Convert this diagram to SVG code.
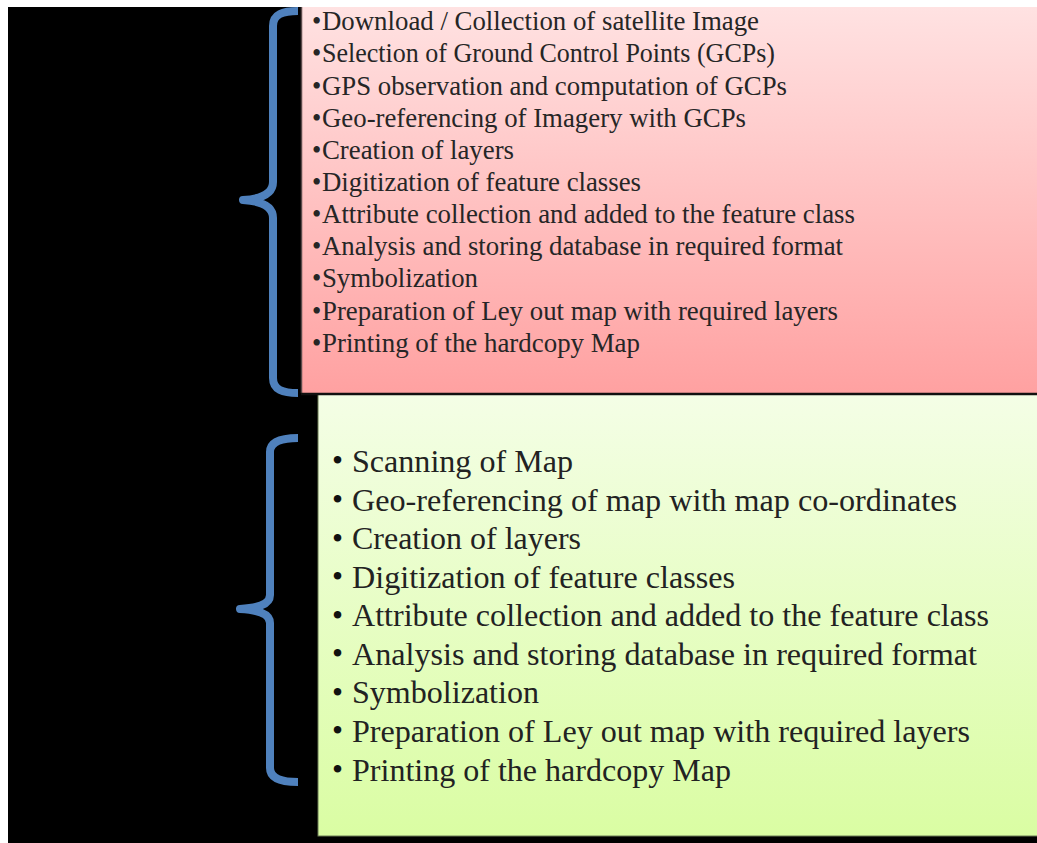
<svg xmlns="http://www.w3.org/2000/svg" width="1037" height="843" viewBox="0 0 1037 843">
  <defs>
    <linearGradient id="gPink" x1="0" y1="0" x2="0" y2="1">
      <stop offset="0" stop-color="#FFE2E2"/>
      <stop offset="1" stop-color="#FFA1A1"/>
    </linearGradient>
    <linearGradient id="gGreen" x1="0" y1="0" x2="0" y2="1">
      <stop offset="0" stop-color="#F4FEE6"/>
      <stop offset="1" stop-color="#DAFDA3"/>
    </linearGradient>
    <style>
      .brace { fill: none; stroke: #4F81BD; stroke-width: 8; stroke-linecap: butt; stroke-linejoin: round; }
      .t1 { font-family: "Liberation Serif", "Times New Roman", serif; font-size: 26.5px; fill: #262626; }
      .t2 { font-family: "Liberation Serif", "Times New Roman", serif; font-size: 31.5px; fill: #222222; }
      .b2 { font-family: "Liberation Serif", "Times New Roman", serif; font-size: 31.5px; fill: #111111; }
    </style>
  </defs>
  <rect x="0" y="0" width="1037" height="843" fill="#FFFFFF"/>
  <rect x="8" y="7" width="1029" height="836" fill="#000000"/>

  <g id="box-satellite">
    <rect x="301" y="7" width="736" height="386" fill="url(#gPink)"/>
    <line x1="301.5" y1="7" x2="301.5" y2="393" stroke="#5a4a4a" stroke-width="1.5"/>
    <text class="t1" x="312" y="30">•</text><text class="t1" x="322" y="30" textLength="437" lengthAdjust="spacingAndGlyphs">Download / Collection of satellite Image</text>
    <text class="t1" x="312" y="62">•</text><text class="t1" x="322" y="62" textLength="453" lengthAdjust="spacingAndGlyphs">Selection of Ground Control Points (GCPs)</text>
    <text class="t1" x="312" y="95">•</text><text class="t1" x="322" y="95" textLength="465" lengthAdjust="spacingAndGlyphs">GPS observation and computation of GCPs</text>
    <text class="t1" x="312" y="127">•</text><text class="t1" x="322" y="127" textLength="424" lengthAdjust="spacingAndGlyphs">Geo-referencing of Imagery with GCPs</text>
    <text class="t1" x="312" y="159">•</text><text class="t1" x="322" y="159" textLength="192" lengthAdjust="spacingAndGlyphs">Creation of layers</text>
    <text class="t1" x="312" y="191">•</text><text class="t1" x="322" y="191" textLength="319" lengthAdjust="spacingAndGlyphs">Digitization of feature classes</text>
    <text class="t1" x="312" y="223">•</text><text class="t1" x="322" y="223" textLength="533" lengthAdjust="spacingAndGlyphs">Attribute collection and added to the feature class</text>
    <text class="t1" x="312" y="255">•</text><text class="t1" x="322" y="255" textLength="521" lengthAdjust="spacingAndGlyphs">Analysis and storing database in required format</text>
    <text class="t1" x="312" y="287">•</text><text class="t1" x="322" y="287" textLength="156" lengthAdjust="spacingAndGlyphs">Symbolization</text>
    <text class="t1" x="312" y="320">•</text><text class="t1" x="322" y="320" textLength="516" lengthAdjust="spacingAndGlyphs">Preparation of Ley out map with required layers</text>
    <text class="t1" x="312" y="352">•</text><text class="t1" x="322" y="352" textLength="318" lengthAdjust="spacingAndGlyphs">Printing of the hardcopy Map</text>
  </g>

  <g id="box-map">
    <rect x="318" y="394.5" width="722" height="441.5" fill="url(#gGreen)" stroke="#6b7a55" stroke-width="1"/>
    <line x1="301" y1="394" x2="1037" y2="394" stroke="#111111" stroke-width="2.5"/>
    <text class="b2" x="332" y="471">•</text><text class="t2" x="352" y="472" textLength="221" lengthAdjust="spacingAndGlyphs">Scanning of Map</text>
    <text class="b2" x="332" y="510">•</text><text class="t2" x="352" y="511" textLength="605" lengthAdjust="spacingAndGlyphs">Geo-referencing of map with map co-ordinates</text>
    <text class="b2" x="332" y="549">•</text><text class="t2" x="352" y="549" textLength="229" lengthAdjust="spacingAndGlyphs">Creation of layers</text>
    <text class="b2" x="332" y="587">•</text><text class="t2" x="352" y="588" textLength="383" lengthAdjust="spacingAndGlyphs">Digitization of feature classes</text>
    <text class="b2" x="332" y="626">•</text><text class="t2" x="352" y="626" textLength="637" lengthAdjust="spacingAndGlyphs">Attribute collection and added to the feature class</text>
    <text class="b2" x="332" y="664">•</text><text class="t2" x="352" y="665" textLength="625" lengthAdjust="spacingAndGlyphs">Analysis and storing database in required format</text>
    <text class="b2" x="332" y="703">•</text><text class="t2" x="352" y="703" textLength="187" lengthAdjust="spacingAndGlyphs">Symbolization</text>
    <text class="b2" x="332" y="741">•</text><text class="t2" x="352" y="742" textLength="618" lengthAdjust="spacingAndGlyphs">Preparation of Ley out map with required layers</text>
    <text class="b2" x="332" y="780">•</text><text class="t2" x="352" y="781" textLength="379" lengthAdjust="spacingAndGlyphs">Printing of the hardcopy Map</text>
  </g>

  <g id="connectors">
    <path class="brace" d="M 298 11 C 283 11, 273 14, 273 26 L 273 182 C 273 194, 260 199, 243 200 C 260 201, 273 206, 273 218 L 273 378 C 273 390, 283 393, 298 393"/>
    <path class="brace" d="M 298 438 C 282 438, 270 441, 270 452 L 270 595 C 270 605, 257 608, 240 609 C 257 610, 270 613, 270 623 L 270 768 C 270 779, 282 782, 298 782"/>
  </g>
</svg>
